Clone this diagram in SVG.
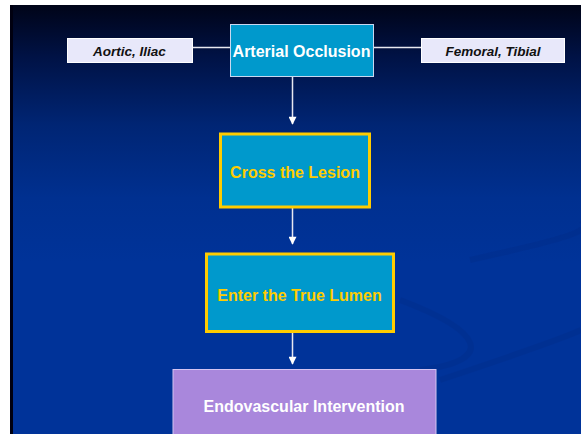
<svg xmlns="http://www.w3.org/2000/svg" width="581" height="434" viewBox="0 0 581 434">
<style>
.lbl{font-family:"Liberation Sans",Arial,sans-serif;font-weight:bold;text-anchor:middle;dominant-baseline:central}
.side{fill:#e8e8fa;stroke:#ffffff;stroke-width:1}
.sidet{font-size:13.5px;font-style:italic;fill:#111111}
.step{fill:#0099cc;stroke:#ffcc00;stroke-width:3}
.stept{font-size:16px;fill:#ffcc00}
.conn{stroke:#e8e8f0;stroke-width:1.5;fill:none}
</style>
<defs>
<linearGradient id="bg" x1="0" y1="0" x2="0" y2="1">
<stop offset="0" stop-color="#000418"/>
<stop offset="0.12" stop-color="#001245"/>
<stop offset="0.28" stop-color="#002574"/>
<stop offset="0.45" stop-color="#003090"/>
<stop offset="0.6" stop-color="#003399"/>
<stop offset="1" stop-color="#003399"/>
</linearGradient>
<marker id="ah" viewBox="0 0 10 10" refX="9" refY="5" markerWidth="9" markerHeight="8" orient="auto" markerUnits="userSpaceOnUse">
<path d="M0,0 L10,5 L0,10 z" fill="#ffffff"/>
</marker>
</defs>
<rect x="0" y="0" width="581" height="434" fill="#ffffff"/>
<rect x="10" y="5" width="571" height="429" fill="url(#bg)"/>
<rect x="10" y="5" width="3" height="429" fill="#000010"/>
<g opacity="0.15" fill="none" stroke="#002270" stroke-width="6">
<path d="M400,300 C480,330 500,360 420,370"/>
<path d="M470,260 C560,240 600,230 581,220"/>
<path d="M440,380 C500,360 560,340 581,330"/>
</g>
<g id="connectors">
<line class="conn" x1="192" y1="47.5" x2="230" y2="47.5"/>
<line class="conn" x1="374" y1="47.5" x2="421" y2="47.5"/>
<line class="conn" x1="292.5" y1="77" x2="292.5" y2="124" marker-end="url(#ah)"/>
<line class="conn" x1="292.5" y1="208" x2="292.5" y2="244" marker-end="url(#ah)"/>
<line class="conn" x1="292.5" y1="333" x2="292.5" y2="364" marker-end="url(#ah)"/>
</g>
<g id="aortic">
<rect class="side" x="67.5" y="38.5" width="125" height="24"/>
<text class="lbl sidet" x="129.5" y="51">Aortic, Iliac</text>
</g>
<g id="arterial">
<rect x="230.5" y="24.5" width="143" height="52" fill="#0099cc" stroke="#c8d8f0" stroke-width="1"/>
<text class="lbl" x="301.5" y="51" font-size="16" fill="#ffffff">Arterial Occlusion</text>
</g>
<g id="femoral">
<rect class="side" x="421.5" y="38.5" width="143" height="24"/>
<text class="lbl sidet" x="493" y="51">Femoral, Tibial</text>
</g>
<g id="cross">
<rect class="step" x="220.5" y="134" width="149" height="73"/>
<text class="lbl stept" x="295" y="172.5">Cross the Lesion</text>
</g>
<g id="enter">
<rect class="step" x="206.5" y="254" width="187" height="77.5"/>
<text class="lbl stept" x="299.5" y="295.5">Enter the True Lumen</text>
</g>
<g id="endo">
<rect x="173" y="369.5" width="263" height="70" fill="#a987dc" stroke="#d4c4f2" stroke-width="1"/>
<text class="lbl" x="304" y="406" font-size="16" fill="#ffffff">Endovascular Intervention</text>
</g>
</svg>
